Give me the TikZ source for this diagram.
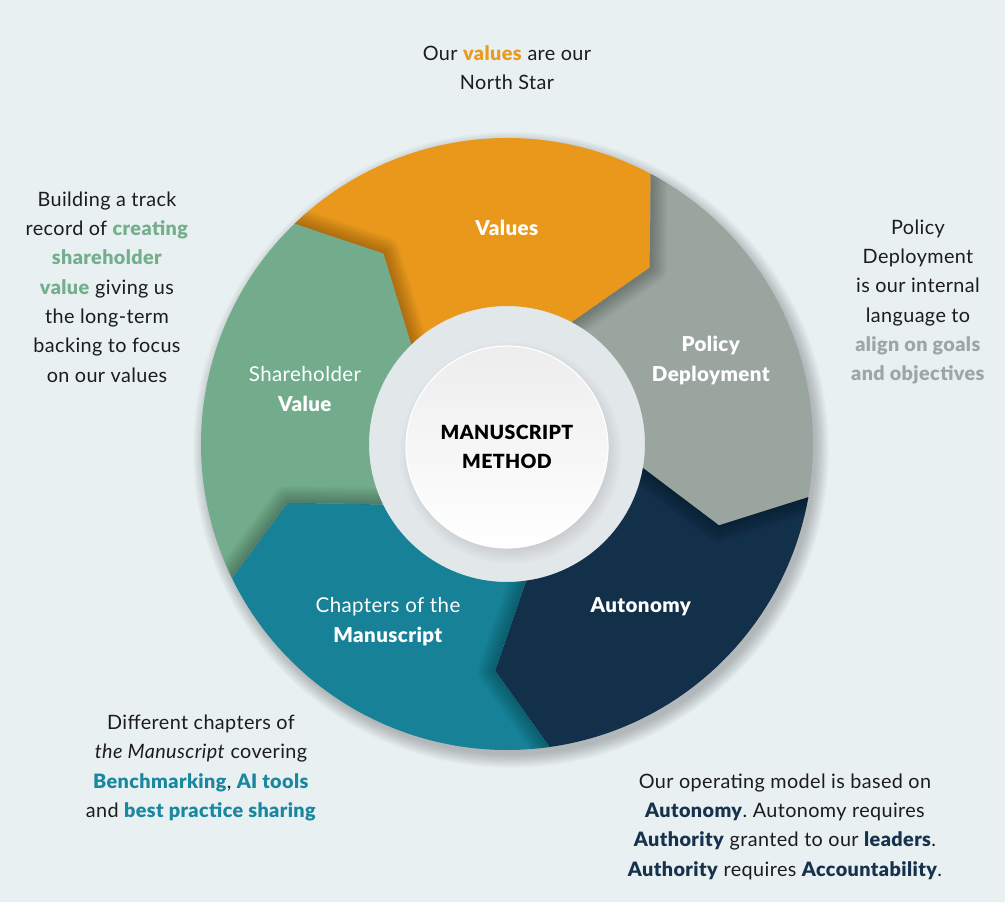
\documentclass[tikz,border=0pt]{standalone}
\usepackage{fontspec}
\setmainfont{Lato}[LetterSpace=2.0, BoldFont={Lato Black}, BoldItalicFont={Lato Black Italic}]
\usetikzlibrary{shadows}
\frenchspacing
\definecolor{bg}{HTML}{E8F0F2}
\definecolor{cOrange}{HTML}{E9981B}
\definecolor{cGray}{HTML}{9AA59F}
\definecolor{cNavy}{HTML}{13304B}
\definecolor{cTeal}{HTML}{168197}
\definecolor{cGreen}{HTML}{72AC8C}
\definecolor{tOrange}{HTML}{EA9A1E}
\definecolor{tGreen}{HTML}{74AE8D}
\definecolor{tGray}{HTML}{9DA7A2}
\definecolor{tTeal}{HTML}{1A87A0}
\definecolor{tNavy}{HTML}{16324D}
\definecolor{ink}{HTML}{1C1C1C}
\definecolor{gapin}{HTML}{E2E7EA}
\definecolor{gapout}{HTML}{EDF1F3}
\pgfdeclareradialshading{gapshade}{\pgfpoint{0bp}{0bp}}{color(0bp)=(gapin); color(36bp)=(gapin); color(50bp)=(gapout)}
\newcommand\segpath[1]{(#1:306) arc[start angle=#1, end angle=#1-72, radius=306] -- (#1-83:227) -- (#1-72:138) arc[start angle=#1-72, end angle=#1, radius=138] -- (#1-11:227) -- cycle}
\newcommand\hl[2]{\textcolor{#1}{\textbf{#2}}}
\tikzset{
  note/.style={align=center, text=ink, font=\fontsize{19.8}{29.3}\selectfont},
  seglabel/.style={align=center, text=white, font=\fontsize{20.5}{30}\selectfont},
}
\begin{document}
\begin{tikzpicture}[x=1pt,y=1pt]
\useasboundingbox (0,0) rectangle (1005,902);
\fill[bg] (0,0) rectangle (1005,902);
% soft shadow of ring
\foreach \k in {0,...,11} \fill[black, opacity=0.018] (511,452) circle[radius={318-\k*1.2}];
% gap area inside ring
\fill[shading=gapshade] (507,458) circle[radius=140];
% segments
\begin{scope}[shift={(507,458)}]
\foreach \a/\c in {134/cOrange, 62/cGray, -10/cNavy, -82/cTeal, -154/cGreen} {
  \fill[\c] \segpath{\a};
  \begin{scope}
    \clip \segpath{\a};
    \foreach \w in {34,31,...,4}
      \draw[black, line width=\w pt, opacity=0.022, line join=round, line cap=round] (\a:306) -- (\a-11:227) -- (\a:138);
  \end{scope}
}
\end{scope}
% hub
\node (hub) [circle, minimum size=202pt, inner sep=0pt, top color=black!7, bottom color=white, draw=white, line width=1.2pt,
  circular drop shadow={shadow xshift=3pt, shadow yshift=-5pt, opacity=0.25}, align=center, text=black,
  font=\fontsize{19.5}{29}\selectfont\bfseries] at (507,455) {MANUSCRIPT\\METHOD};
% segment labels
\node (lValues) [seglabel] at (507,674) {\textbf{Values}};
\node (lPolicy) [seglabel] at (711,542) {\textbf{Policy}\\\textbf{Deployment}};
\node (lShare) [seglabel] at (305,513) {Shareholder\\\textbf{Value}};
\node (lChap) [seglabel] at (388,280) {Chapters of the\\\textbf{Manuscript}};
\node (lAuto) [seglabel] at (641,295) {\textbf{Autonomy}};
% annotations
\node (nTop) [note] at (507,834) {Our \hl{tOrange}{values} are our\\North Star};
\node (nLeft) [note] at (107,615) {Building a track\\record of \hl{tGreen}{creating}\\\hl{tGreen}{shareholder}\\\hl{tGreen}{value} giving us\\the long-term\\backing to focus\\on our values};
\node (nRight) [note] at (918,600) {Policy\\Deployment\\is our internal\\language to\\\hl{tGray}{align on goals}\\\hl{tGray}{and objectives}};
\node (nBL) [note] at (201,134) {Different chapters of\\\textit{the Manuscript} covering\\\hl{tTeal}{Benchmarking}, \hl{tTeal}{AI tools}\\and \hl{tTeal}{best practice sharing}};
\node (nBR) [note] at (785,75.5) {Our operating model is based on\\\hl{tNavy}{Autonomy}. Autonomy requires\\\hl{tNavy}{Authority} granted to our \hl{tNavy}{leaders}.\\\hl{tNavy}{Authority} requires \hl{tNavy}{Accountability}.};
\end{tikzpicture}
\end{document}
